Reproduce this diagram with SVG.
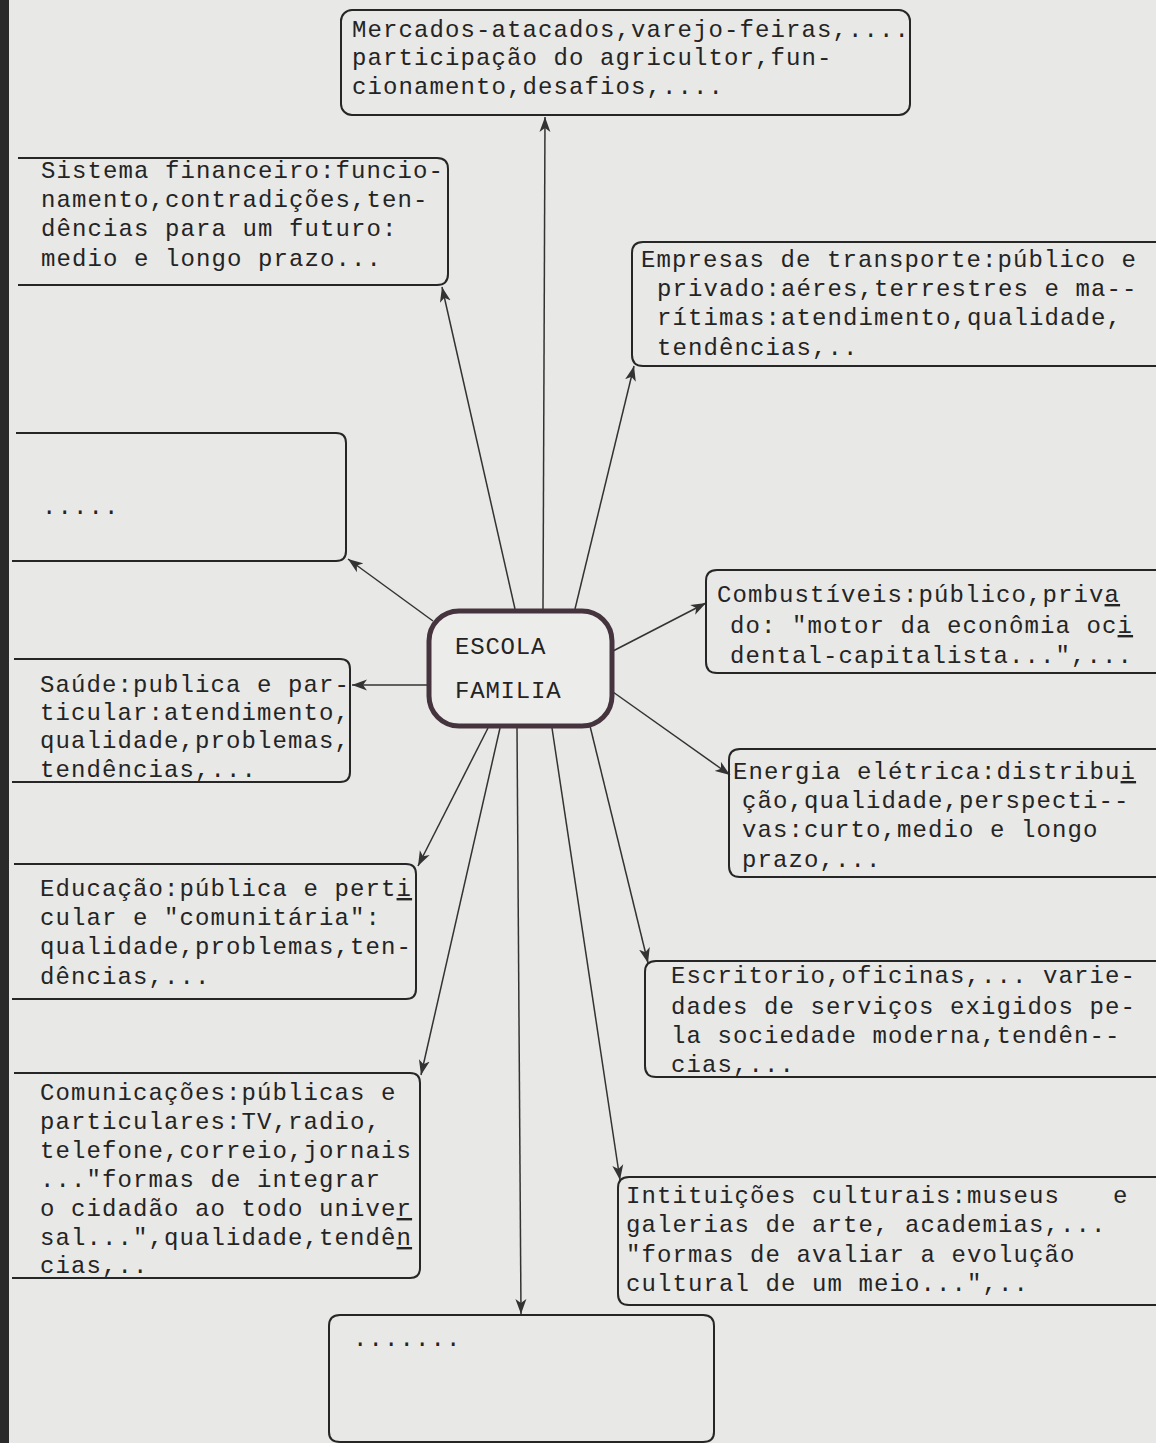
<svg xmlns="http://www.w3.org/2000/svg" width="1156" height="1443" viewBox="0 0 1156 1443">
<style>
  .bg{fill:#e8e8e6}
  .box{fill:none;stroke:#262626;stroke-width:2;stroke-linejoin:round}
  .t{font-family:"Liberation Mono","Courier New",monospace;font-size:24px;letter-spacing:1.1px;fill:#242424}
  .c{font-family:"Liberation Mono","Courier New",monospace;font-size:24px;letter-spacing:0.8px;fill:#242424}
  .u{text-decoration:underline}
  .ln{stroke:#333;stroke-width:1.5;fill:none}
</style>
<defs>
  <marker id="ah" markerUnits="userSpaceOnUse" markerWidth="16" markerHeight="12" refX="15" refY="6" orient="auto">
    <path d="M0,0.5 L15,6 L0,11.5 L4,6 Z" fill="#333"/>
  </marker>
</defs>
<rect class="bg" x="0" y="0" width="1156" height="1443"/>
<rect x="0" y="0" width="9" height="1443" fill="#2a2a2a"/>

<g id="connectors">
  <line class="ln" x1="543" y1="609" x2="545" y2="117" marker-end="url(#ah)"/>
  <line class="ln" x1="515" y1="609" x2="442" y2="287" marker-end="url(#ah)"/>
  <line class="ln" x1="575" y1="609" x2="634" y2="366" marker-end="url(#ah)"/>
  <line class="ln" x1="433" y1="621" x2="348" y2="559" marker-end="url(#ah)"/>
  <line class="ln" x1="427" y1="685" x2="352" y2="685" marker-end="url(#ah)"/>
  <line class="ln" x1="613" y1="651" x2="706" y2="603" marker-end="url(#ah)"/>
  <line class="ln" x1="613" y1="692" x2="730" y2="775" marker-end="url(#ah)"/>
  <line class="ln" x1="488" y1="728" x2="418" y2="866" marker-end="url(#ah)"/>
  <line class="ln" x1="500" y1="728" x2="421" y2="1075" marker-end="url(#ah)"/>
  <line class="ln" x1="517" y1="728" x2="521" y2="1314" marker-end="url(#ah)"/>
  <line class="ln" x1="552" y1="728" x2="620" y2="1180" marker-end="url(#ah)"/>
  <line class="ln" x1="590" y1="726" x2="648" y2="963" marker-end="url(#ah)"/>
</g>

<g id="center">
  <rect x="429" y="611" width="183" height="115" rx="30" fill="#ececea" stroke="#45343d" stroke-width="5"/>
  <text class="c" x="455" y="654">ESCOLA</text>
  <text class="c" x="455" y="698">FAMILIA</text>
</g>

<g id="mercados">
  <rect class="box" x="341" y="10" width="569" height="105" rx="11"/>
  <text class="t" x="352" y="37">Mercados-atacados,varejo-feiras,....</text>
  <text class="t" x="352" y="65">participação do agricultor,fun-</text>
  <text class="t" x="352" y="94">cionamento,desafios,....</text>
</g>

<g id="sistema">
  <path class="box" d="M18,158 H437 Q448,158 448,169 V274 Q448,285 437,285 H18"/>
  <text class="t" x="41" y="178">Sistema financeiro:funcio-</text>
  <text class="t" x="41" y="207">namento,contradições,ten-</text>
  <text class="t" x="41" y="236">dências para um futuro:</text>
  <text class="t" x="41" y="266">medio e longo prazo...</text>
</g>

<g id="empresas">
  <path class="box" d="M1160,242 H643 Q632,242 632,253 V355 Q632,366 643,366 H1160"/>
  <text class="t" x="641" y="267">Empresas de transporte:público e</text>
  <text class="t" x="657" y="296">privado:aéres,terrestres e ma--</text>
  <text class="t" x="657" y="325">rítimas:atendimento,qualidade,</text>
  <text class="t" x="657" y="355">tendências,..</text>
</g>

<g id="vazio1">
  <path class="box" d="M16,433 H336 Q346,433 346,443 V551 Q346,561 336,561 H12"/>
  <text class="t" x="42" y="514">.....</text>
</g>

<g id="combustiveis">
  <path class="box" d="M1160,570 H717 Q706,570 706,581 V662 Q706,673 717,673 H1160"/>
  <text class="t" x="717" y="602">Combustíveis:público,priv<tspan class="u">a</tspan></text>
  <text class="t" x="730" y="633">do: "motor da econômia oc<tspan class="u">i</tspan></text>
  <text class="t" x="730" y="663">dental-capitalista...",...</text>
</g>

<g id="saude">
  <path class="box" d="M14,659 H340 Q350,659 350,669 V772 Q350,782 340,782 H12"/>
  <text class="t" x="40" y="692">Saúde:publica e par-</text>
  <text class="t" x="40" y="720">ticular:atendimento,</text>
  <text class="t" x="40" y="748">qualidade,problemas,</text>
  <text class="t" x="40" y="777">tendências,...</text>
</g>

<g id="energia">
  <path class="box" d="M1160,749 H740 Q729,749 729,760 V866 Q729,877 740,877 H1160"/>
  <text class="t" x="733" y="779">Energia elétrica:distribu<tspan class="u">i</tspan></text>
  <text class="t" x="742" y="808">ção,qualidade,perspecti--</text>
  <text class="t" x="742" y="837">vas:curto,medio e longo</text>
  <text class="t" x="742" y="867">prazo,...</text>
</g>

<g id="educacao">
  <path class="box" d="M14,864 H406 Q416,864 416,874 V989 Q416,999 406,999 H12"/>
  <text class="t" x="40" y="896">Educação:pública e pert<tspan class="u">i</tspan></text>
  <text class="t" x="40" y="925">cular e "comunitária":</text>
  <text class="t" x="40" y="954">qualidade,problemas,ten-</text>
  <text class="t" x="40" y="984">dências,...</text>
</g>

<g id="escritorio">
  <path class="box" d="M1160,961 H656 Q645,961 645,972 V1066 Q645,1077 656,1077 H1160"/>
  <text class="t" x="671" y="983">Escritorio,oficinas,... varie-</text>
  <text class="t" x="671" y="1014">dades de serviços exigidos pe-</text>
  <text class="t" x="671" y="1043">la sociedade moderna,tendên--</text>
  <text class="t" x="671" y="1072">cias,...</text>
</g>

<g id="comunicacoes">
  <path class="box" d="M14,1073 H410 Q420,1073 420,1083 V1268 Q420,1278 410,1278 H12"/>
  <text class="t" x="40" y="1100">Comunicações:públicas e</text>
  <text class="t" x="40" y="1129">particulares:TV,radio,</text>
  <text class="t" x="40" y="1158">telefone,correio,jornais</text>
  <text class="t" x="40" y="1187">..."formas de integrar</text>
  <text class="t" x="40" y="1216">o cidadão ao todo unive<tspan class="u">r</tspan></text>
  <text class="t" x="40" y="1245">sal...",qualidade,tendê<tspan class="u">n</tspan></text>
  <text class="t" x="40" y="1273">cias,..</text>
</g>

<g id="instituicoes">
  <path class="box" d="M1160,1177 H629 Q618,1177 618,1188 V1294 Q618,1305 629,1305 H1160"/>
  <text class="t" x="626" y="1203">Intituições culturais:museus<tspan x="1113">e</tspan></text>
  <text class="t" x="626" y="1232">galerias de arte, academias,...</text>
  <text class="t" x="626" y="1262">"formas de avaliar a evolução</text>
  <text class="t" x="626" y="1291">cultural de um meio...",..</text>
</g>

<g id="vazio2">
  <path class="box" d="M340,1315 H703 Q714,1315 714,1326 V1432 Q714,1442 703,1442 H340 Q329,1442 329,1432 V1326 Q329,1315 340,1315 Z"/>
  <text class="t" x="353" y="1346">.......</text>
</g>
</svg>
